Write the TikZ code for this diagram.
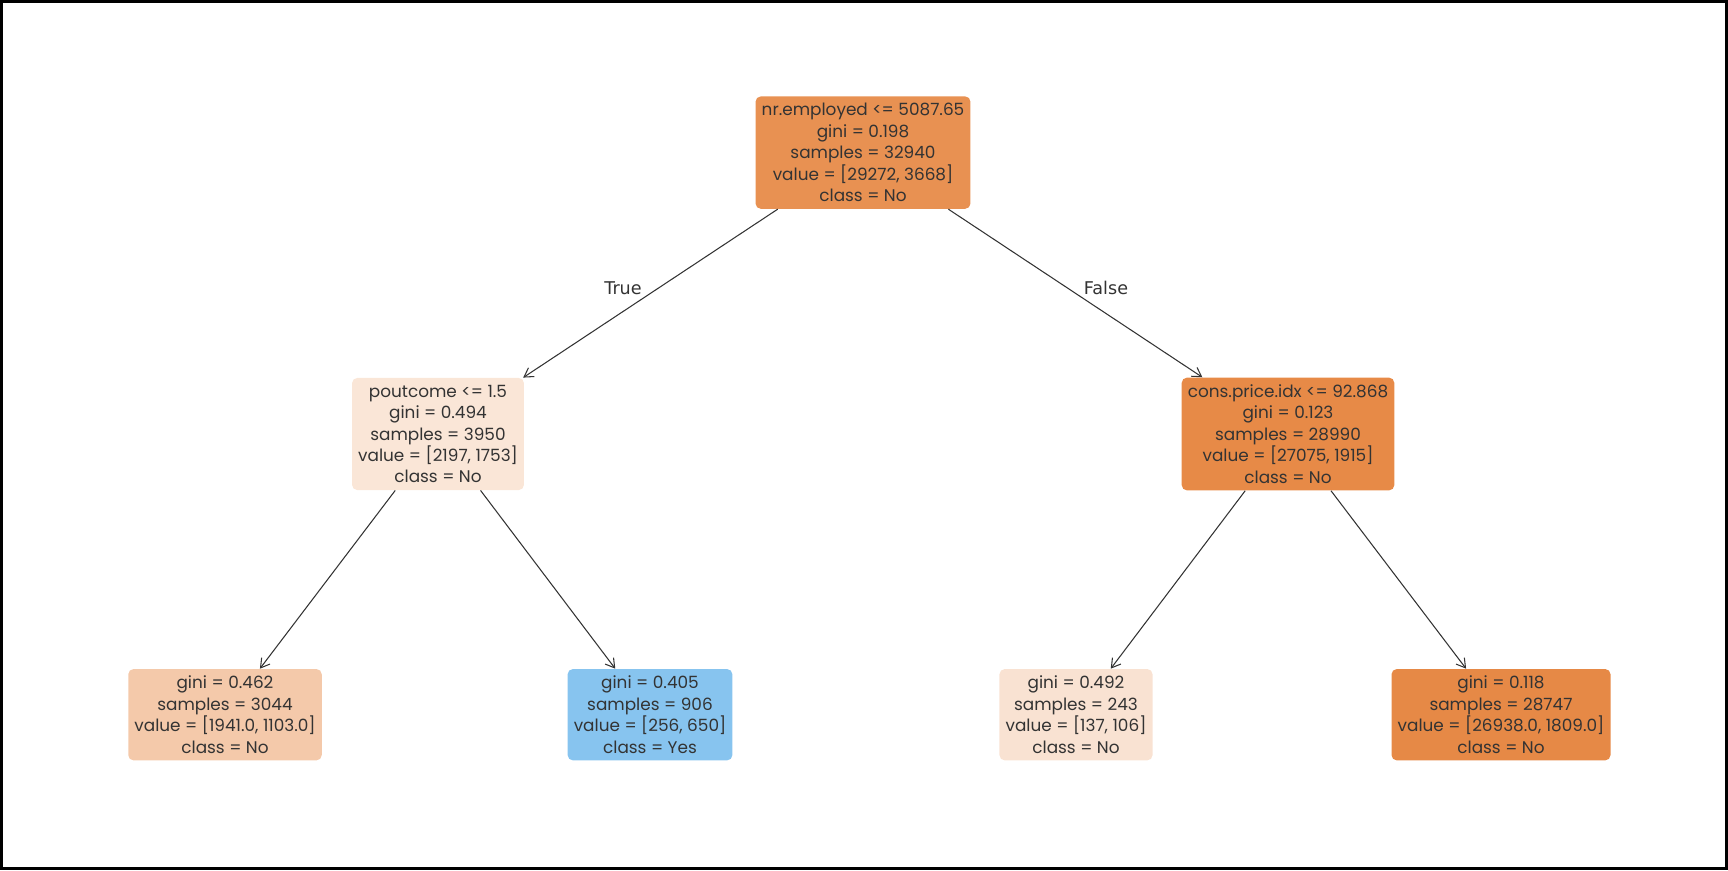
\documentclass[tikz,border=0pt]{standalone}
\usepackage{fontspec}
\setmainfont{Poppins}
\newfontfamily\edgefont{DejaVu Sans}
\usepackage{xcolor}
\definecolor{treetext}{RGB}{51,51,51}
\definecolor{treeline}{RGB}{51,51,51}
\definecolor{noroot}{RGB}{232,145,82}
\definecolor{nopout}{RGB}{250,230,215}
\definecolor{nocons}{RGB}{231,138,71}
\definecolor{noleafa}{RGB}{244,201,170}
\definecolor{yesleaf}{RGB}{135,196,239}
\definecolor{noleafc}{RGB}{249,226,210}
\definecolor{noleafd}{RGB}{230,137,70}
\usetikzlibrary{arrows.meta,positioning}

\begin{document}
\begin{tikzpicture}[x=0.02cm,y=-0.02cm,
  treenode/.style={rounded corners=3pt, align=center, text=treetext,
    inner xsep=3.5pt, inner ysep=4pt, font=\fontsize{9.6}{12.2}\selectfont},
  treearrow/.style={treeline, line width=0.6pt, -{Straight Barb[length=5pt,width=6pt]}},
  edgelabel/.style={font=\edgefont\fontsize{10}{12}\selectfont, text=treetext}]
  \useasboundingbox (0,0) rectangle (1728,870);
  % Outer frame
  \draw[black, line width=1.6pt] (1.5,1.5) rectangle (1726.5,868.5);
  % Root split
  \node[treenode, fill=noroot] (root) at (863,152.6)
    {nr.employed <= 5087.65\\gini = 0.198\\samples = 32940\\value = [29272, 3668]\\class = No};
  % Second level
  \node[treenode, fill=nopout] (pout) at (438,434)
    {poutcome <= 1.5\\gini = 0.494\\samples = 3950\\value = [2197, 1753]\\class = No};
  \node[treenode, fill=nocons] (cons) at (1288,434)
    {cons.price.idx <= 92.868\\gini = 0.123\\samples = 28990\\value = [27075, 1915]\\class = No};
  % Leaves
  \node[treenode, fill=noleafa] (leafa) at (225,714.7)
    {gini = 0.462\\samples = 3044\\value = [1941.0, 1103.0]\\class = No};
  \node[treenode, fill=yesleaf] (leafb) at (650,714.7)
    {gini = 0.405\\samples = 906\\value = [256, 650]\\class = Yes};
  \node[treenode, fill=noleafc] (leafc) at (1076,714.7)
    {gini = 0.492\\samples = 243\\value = [137, 106]\\class = No};
  \node[treenode, fill=noleafd] (leafd) at (1501,714.7)
    {gini = 0.118\\samples = 28747\\value = [26938.0, 1809.0]\\class = No};
  % Connectors
  \draw[treearrow] (root) -- (pout);
  \draw[treearrow] (root) -- (cons);
  \draw[treearrow] (pout) -- (leafa);
  \draw[treearrow] (pout) -- (leafb);
  \draw[treearrow] (cons) -- (leafc);
  \draw[treearrow] (cons) -- (leafd);
  % Branch labels
  \node[edgelabel] (truelab) at (623,288) {True};
  \node[edgelabel] (falselab) at (1106,288) {False};
\end{tikzpicture}
\end{document}
